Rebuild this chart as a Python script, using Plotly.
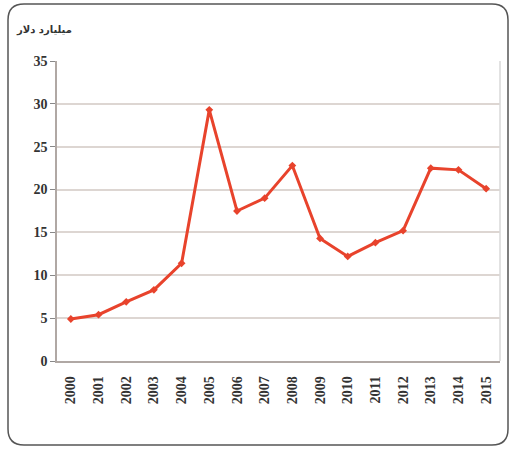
import plotly.graph_objects as go

years = [str(y) for y in range(2000, 2016)]
values = [4.9, 5.4, 6.9, 8.3, 11.4, 29.3, 17.5, 19.0, 22.8, 14.3, 12.2, 13.8, 15.2, 22.5, 22.3, 20.1]
y_ticks = [0, 5, 10, 15, 20, 25, 30, 35]
title_text = "میلیارد دلار"

W, H = 512, 451
L, R, T, B = 57, 12, 61, 90
pw, ph = W - L - R, H - T - B

def px(x):
    return (x - L) / pw

def py(y):
    return (H - B - y) / ph

fig = go.Figure()
fig.add_trace(go.Scatter(
    x=years, y=values, mode="lines+markers",
    line=dict(color="#e8432c", width=3),
    marker=dict(symbol="diamond", size=6, color="#e8432c"),
    showlegend=False,
))

# rounded outer frame
x0, x1, y0, y1, r = 8, 508, 4, 445, 16
path = (f"M {px(x0+r)},{py(y0)} L {px(x1-r)},{py(y0)} "
        f"Q {px(x1)},{py(y0)} {px(x1)},{py(y0+r)} "
        f"L {px(x1)},{py(y1-r)} Q {px(x1)},{py(y1)} {px(x1-r)},{py(y1)} "
        f"L {px(x0+r)},{py(y1)} Q {px(x0)},{py(y1)} {px(x0)},{py(y1-r)} "
        f"L {px(x0)},{py(y0+r)} Q {px(x0)},{py(y0)} {px(x0+r)},{py(y0)} Z")
fig.add_shape(type="path", path=path, xref="paper", yref="paper",
              line=dict(color="#555555", width=1.5), layer="below")
# right border of plot area
fig.add_shape(type="line", xref="paper", yref="paper", x0=1, x1=1, y0=0, y1=1,
              line=dict(color="#d8d8d8", width=1.5))

fig.add_annotation(text=title_text, xref="paper", yref="paper",
                   x=px(14), y=py(30), xanchor="left", yanchor="middle",
                   showarrow=False,
                   font=dict(family="DejaVu Sans", size=10, color="#333333", weight="bold"))

fig.update_xaxes(
    type="category", range=[-0.5, len(years) - 0.5], showgrid=False, showline=True,
    linecolor="#b0a8a4", linewidth=1.5,
    tickangle=-90, ticks="", ticklabelstandoff=8,
    tickfont=dict(family="Liberation Serif", size=14, color="#333333", weight="bold"),
)
fig.update_yaxes(
    range=[0, 35], tickvals=y_ticks, showgrid=True, gridcolor="#ddd6d2", gridwidth=1.5,
    showline=True, linecolor="#b0a8a4", linewidth=1.5, ticks="outside", ticklen=5,
    tickcolor="#888888", zeroline=False,
    tickfont=dict(family="Liberation Serif", size=14, color="#333333", weight="bold"),
)
fig.update_layout(
    width=W, height=H, margin=dict(l=L, r=R, t=T, b=B, autoexpand=False),
    paper_bgcolor="white", plot_bgcolor="white",
)
fig.write_html("out.html")
